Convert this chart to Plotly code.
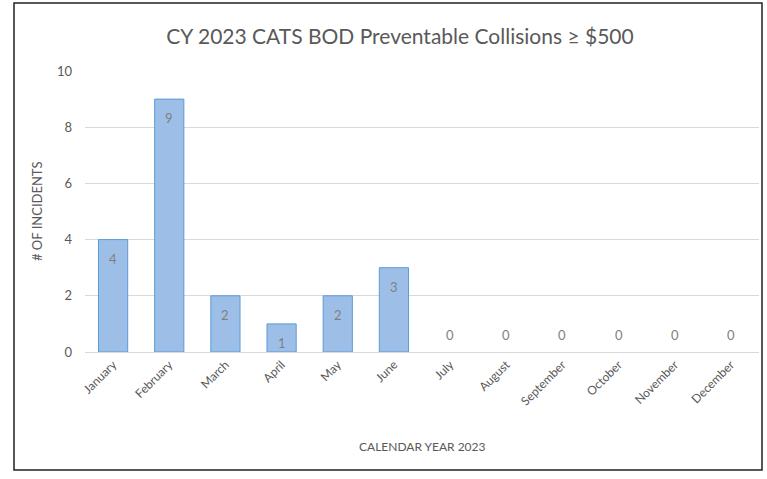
import plotly.graph_objects as go

months = ["January", "February", "March", "April", "May", "June",
          "July", "August", "September", "October", "November", "December"]
incidents = [4, 9, 2, 1, 2, 3, 0, 0, 0, 0, 0, 0]
y_ticks = [0, 2, 4, 6, 8, 10]

W, H = 767, 479
L, R, T, B = 85, 8, 71, 127
pw, ph = W - L - R, H - T - B

fig = go.Figure()
fig.add_trace(go.Bar(
    x=months, y=incidents,
    marker=dict(color="#9dbfe7",
                line=dict(color="#5b9bd5", width=[1 if v > 0 else 0 for v in incidents])),
    width=0.52,
    hoverinfo="x+y",
))

annots = []
for m, v in zip(months, incidents):
    annots.append(dict(
        x=m, y=v, xref="x", yref="y", text=str(v), showarrow=False,
        xanchor="center", yanchor="middle",
        yshift=-19 if v > 0 else 17,
        font=dict(size=13, color="#7f7f7f", family="Lato"),
    ))
annots.append(dict(
    x=0.5, y=(T + ph - 446) / ph, xref="paper", yref="paper", text="CALENDAR YEAR 2023",
    showarrow=False, xanchor="center", yanchor="middle",
    font=dict(size=12, color="#595959", family="Lato"),
))
annots.append(dict(
    x=(37 - L) / pw, y=(T + ph - 211) / ph, xref="paper", yref="paper", text="# OF INCIDENTS",
    showarrow=False, textangle=-90, xanchor="center", yanchor="middle",
    font=dict(size=13, color="#595959", family="Lato"),
))

fig.update_layout(
    width=W, height=H,
    margin=dict(l=L, r=R, t=T, b=B, autoexpand=False),
    paper_bgcolor="white", plot_bgcolor="white",
    font=dict(family="Lato", color="#595959"),
    title=dict(text="CY 2023 CATS BOD Preventable Collisions ≥ $500",
               x=400 / W, xanchor="center", y=1 - 37 / H, yanchor="middle",
               font=dict(size=21, color="#595959", family="Lato")),
    showlegend=False,
    annotations=annots,
    shapes=[dict(type="rect", xref="paper", yref="paper",
                 x0=(14 - L) / pw, x1=(762 - L) / pw,
                 y0=(T + ph - 470) / ph, y1=(T + ph - 3) / ph,
                 line=dict(color="#222222", width=1.5), fillcolor="rgba(0,0,0,0)",
                 layer="above")],
)
fig.update_xaxes(
    tickangle=-45, tickfont=dict(size=12, color="#595959"),
    showgrid=False, showline=True, linecolor="#d9d9d9", linewidth=1,
    ticks="", automargin=False,
)
fig.update_yaxes(
    range=[0, 10], tickvals=y_ticks, tickfont=dict(size=13, color="#595959"),
    showgrid=True, gridcolor="#d9d9d9", gridwidth=1, zeroline=False,
    showline=False, ticks="", ticklabelstandoff=12, automargin=False,
)

fig.write_html("out.html", config={"displayModeBar": False},
               post_script="document.body.style.margin='0';")
